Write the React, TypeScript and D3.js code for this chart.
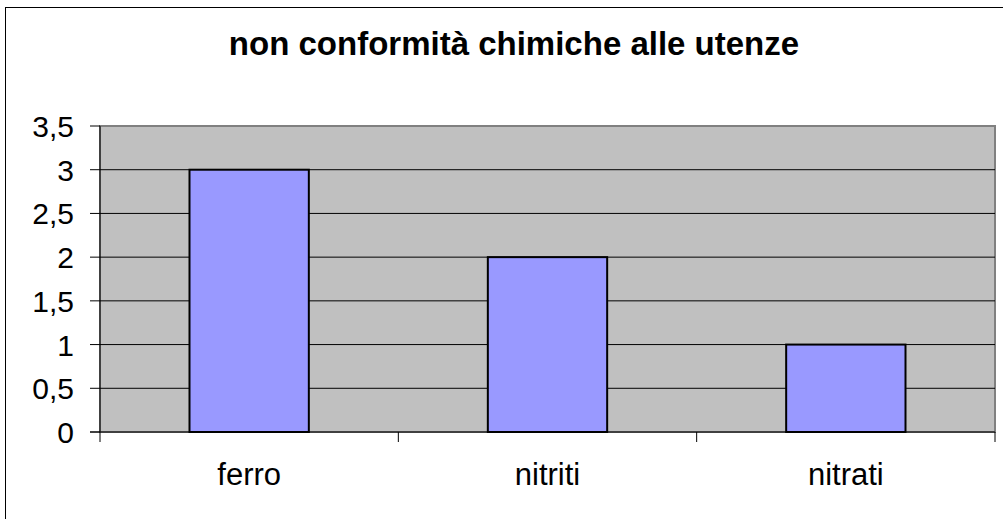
import React from "react";
import * as d3 from "d3";

const title = "non conformità chimiche alle utenze";
const categories = ["ferro", "nitriti", "nitrati"];
const values = [3, 2, 1];
const yTicks = [0, 0.5, 1, 1.5, 2, 2.5, 3, 3.5];

const W = 1003;
const H = 519;
const plot = { left: 100, right: 995, top: 126, bottom: 432 };

export default function App() {
  const x = d3
    .scaleBand<string>()
    .domain(categories)
    .range([plot.left, plot.right])
    .paddingInner(0.6)
    .paddingOuter(0.3);
  const band = d3.scaleBand<string>().domain(categories).range([plot.left, plot.right]);
  const y = d3.scaleLinear().domain([0, 3.5]).range([plot.bottom, plot.top]);
  const fmt = (v: number) => String(v).replace(".", ",");
  const font = "'Liberation Sans', Arial, sans-serif";

  return (
    <svg
      width={W}
      height={H}
      style={{ position: "absolute", left: 0, top: 0, background: "#fff" }}
      fontFamily={font}
    >
      <rect x={5.5} y={7.5} width={1100} height={600} fill="#fff" stroke="#000" strokeWidth={1} />
      <text x={514} y={55} textAnchor="middle" fontSize={33} fontWeight="bold">
        {title}
      </text>
      <rect
        x={plot.left}
        y={plot.top}
        width={plot.right - plot.left}
        height={plot.bottom - plot.top}
        fill="#C0C0C0"
        stroke="#808080"
        strokeWidth={2}
      />
      {yTicks.slice(1, -1).map((t) => (
        <line key={t} x1={plot.left} x2={plot.right} y1={y(t)} y2={y(t)} stroke="#000" strokeWidth={1} />
      ))}
      {categories.map((c, i) => (
        <rect
          key={c}
          x={x(c)}
          y={y(values[i])}
          width={x.bandwidth()}
          height={y(0) - y(values[i])}
          fill="#9999FF"
          stroke="#000"
          strokeWidth={2}
        />
      ))}
      <line x1={plot.left} x2={plot.left} y1={plot.top} y2={plot.bottom + 10} stroke="#000" strokeWidth={1} />
      <line x1={plot.left - 10} x2={plot.right} y1={plot.bottom} y2={plot.bottom} stroke="#000" strokeWidth={1} />
      {yTicks.map((t) => (
        <g key={t}>
          <line x1={plot.left - 10} x2={plot.left} y1={y(t)} y2={y(t)} stroke="#000" strokeWidth={1} />
          <text x={74} y={y(t) + 11} textAnchor="end" fontSize={30}>
            {fmt(t)}
          </text>
        </g>
      ))}
      {categories.map((c) => (
        <line
          key={"t" + c}
          x1={(band(c) as number) + band.bandwidth()}
          x2={(band(c) as number) + band.bandwidth()}
          y1={plot.bottom}
          y2={plot.bottom + 10}
          stroke="#000"
          strokeWidth={1}
        />
      ))}
      {categories.map((c) => (
        <text
          key={"l" + c}
          x={(band(c) as number) + band.bandwidth() / 2}
          y={485}
          textAnchor="middle"
          fontSize={31}
        >
          {c}
        </text>
      ))}
    </svg>
  );
}
